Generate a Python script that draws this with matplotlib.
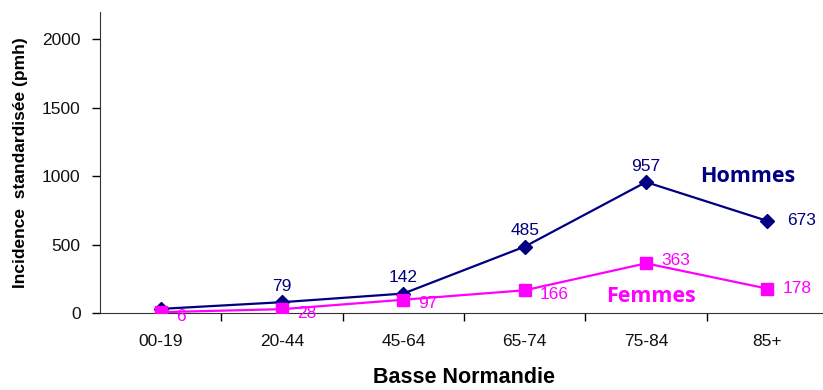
import matplotlib
matplotlib.use("Agg")
import matplotlib.pyplot as plt

age_groups = ["00-19", "20-44", "45-64", "65-74", "75-84", "85+"]
hommes = [30, 79, 142, 485, 957, 673]
femmes = [6, 28, 97, 166, 363, 178]
hommes_labels = [None, "79", "142", "485", "957", "673"]
femmes_labels = ["6", "28", "97", "166", "363", "178"]

navy = "#000080"
magenta = "#FF00FF"

plt.rcParams["font.family"] = ["Liberation Sans", "DejaVu Sans"]

fig = plt.figure(figsize=(8.23, 3.90), dpi=100)
ax = fig.add_axes([100 / 823, 77 / 390, 728 / 823, 301 / 390])

x = list(range(len(age_groups)))
ax.plot(x, hommes, color=navy, lw=1.6, marker="D", ms=7, zorder=3)
ax.plot(x, femmes, color=magenta, lw=1.6, marker="s", ms=9, zorder=4)

# value labels for the men's series
for i, (v, t) in enumerate(zip(hommes, hommes_labels)):
    if t is None:
        continue
    if i == len(x) - 1:
        ax.annotate(t, (i, v), xytext=(14, 0), textcoords="offset points",
                    ha="left", va="center", color=navy, fontsize=12.5)
    else:
        ax.annotate(t, (i, v), xytext=(0, 6), textcoords="offset points",
                    ha="center", va="bottom", color=navy, fontsize=12.5)

# value labels for the women's series
for i, (v, t) in enumerate(zip(femmes, femmes_labels)):
    dy = 2 if i == 4 else (0 if i == len(x) - 1 else -3)
    ax.annotate(t, (i, v), xytext=(11, dy), textcoords="offset points",
                ha="left", va="center", color=magenta, fontsize=12.5)

ax.text(4.45, 1000, "Hommes", color=navy, fontsize=15.5, fontweight="bold",
        family=["Open Sans", "DejaVu Sans"], ha="left", va="center")
ax.text(3.67, 120, "Femmes", color=magenta, fontsize=15.5, fontweight="bold",
        family=["Open Sans", "DejaVu Sans"], ha="left", va="center")

ax.set_xlim(-0.5, len(x) - 0.5)
ax.set_ylim(0, 2200)
ax.set_yticks([0, 500, 1000, 1500, 2000])
ax.set_xticks(x)
ax.set_xticklabels(age_groups)
ax.set_xticks([i + 0.5 for i in x[:-1]], minor=True)
ax.tick_params(axis="x", which="major", length=0, pad=15, labelsize=12.5)
ax.tick_params(axis="x", which="minor", length=6, width=1, direction="out")
ax.tick_params(axis="y", length=6, width=1, direction="out", labelsize=12.5, pad=8)
for lab in ax.get_xticklabels() + ax.get_yticklabels():
    lab.set_color("#111111")

for s in ["top", "right"]:
    ax.spines[s].set_visible(False)
ax.spines["left"].set_color("#333333")
ax.spines["bottom"].set_color("#333333")

ax.set_ylabel("Incidence  standardisée (pmh)", fontsize=12.5, fontweight="bold",
              labelpad=10)
ax.set_xlabel("Basse Normandie", fontsize=15.5, fontweight="bold", labelpad=13)

fig.savefig("out.png", dpi=100)
